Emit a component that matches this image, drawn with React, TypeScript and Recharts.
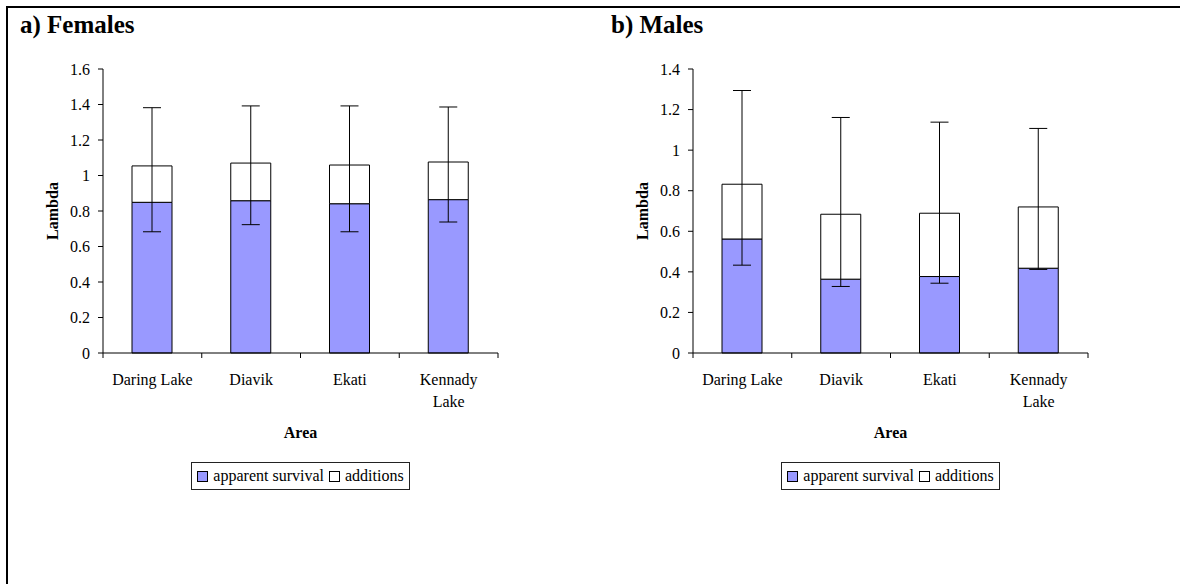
import { BarChart, Bar, XAxis, YAxis, ErrorBar, Legend } from 'recharts'

const FONT = '"Liberation Serif", "Times New Roman", serif'

// categories
const areas = ['Daring Lake', 'Diavik', 'Ekati', 'Kennady Lake']
const areaTickLines: Record<string, string[]> = {
  'Daring Lake': ['Daring Lake'],
  Diavik: ['Diavik'],
  Ekati: ['Ekati'],
  'Kennady Lake': ['Kennady', 'Lake'],
}

const seriesNames = ['apparent survival', 'additions']

// a) females
const femaleSurvival = [0.849, 0.858, 0.841, 0.864]
const femaleLambda = [1.054, 1.07, 1.059, 1.076]
const femaleLower = [0.683, 0.723, 0.683, 0.738]
const femaleUpper = [1.382, 1.392, 1.392, 1.386]
const femaleTicks = [0, 0.2, 0.4, 0.6, 0.8, 1, 1.2, 1.4, 1.6]

// b) males
const maleSurvival = [0.562, 0.364, 0.377, 0.418]
const maleLambda = [0.832, 0.684, 0.689, 0.72]
const maleLower = [0.433, 0.328, 0.344, 0.412]
const maleUpper = [1.294, 1.161, 1.138, 1.107]
const maleTicks = [0, 0.2, 0.4, 0.6, 0.8, 1, 1.2, 1.4]

const COLORS = { survival: '#9999FF', additions: '#FFFFFF', edge: '#000000', frame: '#808080' }

const W = 590
const H = 584
const MARGIN = { top: 69, right: 92, left: 1, bottom: 141 }
const Y_AXIS_W = 102
const X_AXIS_H = 90
const PLOT_W = W - MARGIN.left - MARGIN.right - Y_AXIS_W

function buildRows(survival: number[], lambda: number[], lower: number[], upper: number[]) {
  return areas.map((area, i) => ({
    area,
    survival: survival[i],
    additions: +(lambda[i] - survival[i]).toFixed(4),
    err: [+(lambda[i] - lower[i]).toFixed(4), +(upper[i] - lambda[i]).toFixed(4)],
  }))
}

const femaleRows = buildRows(femaleSurvival, femaleLambda, femaleLower, femaleUpper)
const maleRows = buildRows(maleSurvival, maleLambda, maleLower, maleUpper)

function AreaTick(props: any) {
  const { x, y, payload, index } = props
  const band = PLOT_W / areas.length
  const lines = areaTickLines[payload.value] ?? [payload.value]
  return (
    <g>
      <line x1={x - band / 2} x2={x - band / 2} y1={y} y2={y + 5} stroke="#000" />
      {index === areas.length - 1 && (
        <line x1={x + band / 2} x2={x + band / 2} y1={y} y2={y + 5} stroke="#000" />
      )}
      <text x={x} y={y + 32} textAnchor="middle" fontFamily={FONT} fontSize={16} fill="#000">
        {lines.map((l, i) => (
          <tspan key={l} x={x} dy={i === 0 ? 0 : 22}>{l}</tspan>
        ))}
      </text>
    </g>
  )
}

function LegendBox({ payload }: any) {
  const items = [...(payload ?? [])].sort(
    (a: any, b: any) => seriesNames.indexOf(a.value) - seriesNames.indexOf(b.value),
  )
  return (
    <div style={{ display: 'flex', justifyContent: 'center' }}>
      <div
        style={{
          display: 'flex', alignItems: 'center', height: 26, padding: '0 5px 0 5px',
          border: '1px solid #222', background: '#fff', fontFamily: FONT, fontSize: 16, color: '#000',
        }}
      >
        {items.map((it: any, i: number) => (
          <span key={it.value} style={{ display: 'flex', alignItems: 'center', marginLeft: i ? 5 : 0 }}>
            <span
              style={{
                display: 'inline-block', width: 9, height: 9, marginRight: 5,
                border: '1px solid #000',
                background: it.value === seriesNames[0] ? COLORS.survival : COLORS.additions,
              }}
            />
            {it.value}
          </span>
        ))}
      </div>
    </div>
  )
}

function LambdaChart({ rows, ticks }: { rows: any[]; ticks: number[] }) {
  const max = ticks[ticks.length - 1]
  return (
    <BarChart width={W} height={H} data={rows} margin={MARGIN} barSize={40}>
      <XAxis
        dataKey="area"
        height={X_AXIS_H}
        axisLine={{ stroke: '#000' }}
        tickLine={false}
        tickSize={0}
        tickMargin={0}
        interval={0}
        tick={<AreaTick />}
        label={{ value: 'Area', position: 'insideBottom', offset: 5, fontFamily: FONT, fontSize: 16, fontWeight: 'bold', fill: '#000' }}
      />
      <XAxis xAxisId="frame" dataKey="area" orientation="top" height={0} tick={false} tickLine={false} axisLine={{ stroke: COLORS.frame }} />
      <YAxis
        width={Y_AXIS_W}
        domain={[0, max]}
        ticks={ticks}
        interval={0}
        axisLine={{ stroke: '#000' }}
        tickLine={{ stroke: '#000' }}
        tickSize={5}
        tickMargin={8}
        tick={{ fill: '#000', fontFamily: FONT, fontSize: 16 }}
        label={{ value: 'Lambda', angle: -90, position: 'center', fontFamily: FONT, fontSize: 16, fontWeight: 'bold', fill: '#000' }}
      />
      <YAxis yAxisId="frame" orientation="right" width={0} type="number" domain={[0, 1]} tick={false} tickLine={false} axisLine={{ stroke: COLORS.frame }} />
      <Legend
        layout="horizontal"
        verticalAlign="middle"
        align="center"
        content={<LegendBox />}
        wrapperStyle={{ top: 462, left: MARGIN.left + Y_AXIS_W, width: PLOT_W, height: 28 }}
      />
      <Bar dataKey="survival" name={seriesNames[0]} stackId="l" fill={COLORS.survival} stroke={COLORS.edge} strokeWidth={1} isAnimationActive={false} />
      <Bar dataKey="additions" name={seriesNames[1]} stackId="l" fill={COLORS.additions} stroke={COLORS.edge} strokeWidth={1} isAnimationActive={false}>
        <ErrorBar dataKey="err" direction="y" width={9} stroke="#000" strokeWidth={1} isAnimationActive={false} />
      </Bar>
    </BarChart>
  )
}

const titleStyle = {
  position: 'absolute' as const, top: 10, fontFamily: FONT, fontSize: 25, fontWeight: 'bold' as const,
  color: '#000', lineHeight: '30px', whiteSpace: 'nowrap' as const,
}

export default function App() {
  return (
    <div style={{ position: 'absolute', left: 0, top: 0, width: 1180, height: H, background: '#fff', overflow: 'hidden' }}>
      <div style={{ position: 'absolute', left: 6, top: 6, right: 0, bottom: 0, borderTop: '2px solid #000', borderLeft: '2px solid #000' }} />
      <div style={{ position: 'absolute', left: 0, top: 0 }}>
        <LambdaChart rows={femaleRows} ticks={femaleTicks} />
      </div>
      <div style={{ position: 'absolute', left: 590, top: 0 }}>
        <LambdaChart rows={maleRows} ticks={maleTicks} />
      </div>
      <div style={{ ...titleStyle, left: 20 }}>a) Females</div>
      <div style={{ ...titleStyle, left: 611 }}>b) Males</div>
    </div>
  )
}
